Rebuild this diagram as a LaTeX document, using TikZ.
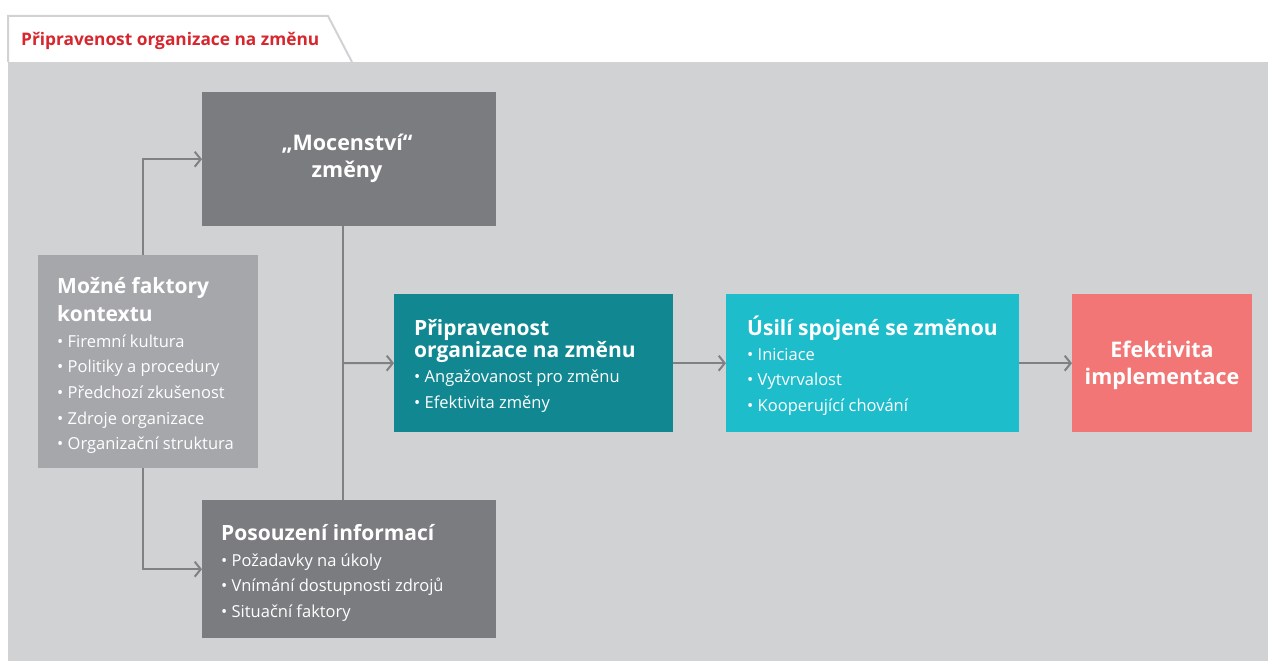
\documentclass[tikz,border=0pt]{standalone}
\usepackage{fontspec}
\setmainfont{Open Sans}
\usetikzlibrary{arrows.meta}
\definecolor{panel}{HTML}{D1D2D4}
\definecolor{darkbox}{HTML}{7B7C80}
\definecolor{lightbox}{HTML}{A6A7AB}
\definecolor{tealbox}{HTML}{118891}
\definecolor{cyanbox}{HTML}{1EBDCB}
\definecolor{salmonbox}{HTML}{F27676}
\definecolor{linegray}{HTML}{808184}
\definecolor{titlered}{HTML}{D7262E}
\tikzset{
  box/.style={rectangle, draw=none, anchor=north west, inner sep=0pt},
  conn/.style={draw=linegray, line width=2pt},
  arr/.style={conn, -{Straight Barb[length=6pt,width=15pt,line width=2pt]}},
  head/.style={anchor=base west, inner sep=0pt, text=white, font=\bfseries\fontsize{21}{22}\selectfont},
  items/.style={anchor=base west, inner sep=0pt, text=white, align=left, font=\fontsize{16.5}{25.7}\selectfont},
  chead/.style={anchor=base, inner sep=0pt, text=white, align=center, font=\bfseries\fontsize{21.5}{27}\selectfont},
}
\begin{document}
\begin{tikzpicture}[x=1pt,y=-1pt]
\useasboundingbox (0,0) rectangle (1268,661);
% background panel and title tab
\fill[panel] (8,62) rectangle (1268,661);
\draw[panel, fill=white, line width=2pt] (8,62) -- (8,16) -- (328,16) -- (352,62);
\node[anchor=base west, inner sep=0pt, text=titlered, font=\bfseries\fontsize{17.3}{18}\selectfont] (title) at (21,46) {Připravenost organizace na změnu};

% boxes
\node[box, fill=darkbox, minimum width=294pt, minimum height=134pt] (moc) at (202,92) {};
\node[box, fill=lightbox, minimum width=220pt, minimum height=213pt] (ctx) at (38,255) {};
\node[box, fill=tealbox, minimum width=279pt, minimum height=138pt] (prep) at (394,294) {};
\node[box, fill=cyanbox, minimum width=293pt, minimum height=138pt] (usili) at (726,294) {};
\node[box, fill=salmonbox, minimum width=180pt, minimum height=138pt] (eff) at (1072,294) {};
\node[box, fill=darkbox, minimum width=294pt, minimum height=138pt] (pos) at (202,500) {};

% box texts (a multi-line node sits on the baseline of its last line)
\node[chead] (mocT) at (347,177) {„Mocenství“\\změny};
\node[head] (ctxH) at (57,293) {Možné faktory};
\node[head] (ctxH2) at (57,321) {kontextu};
\node[items] (ctxI) at (57,449.8) {\textbullet\ Firemní kultura\\\textbullet\ Politiky a procedury\\\textbullet\ Předchozí zkušenost\\\textbullet\ Zdroje organizace\\\textbullet\ Organizační struktura};
\node[head] (prepH) at (414,335) {Připravenost};
\node[head] (prepH2) at (414,357) {organizace na změnu};
\node[items] (prepI) at (414,408) {\textbullet\ Angažovanost pro změnu\\\textbullet\ Efektivita změny};
\node[head] (usiliH) at (747,335) {Úsilí spojené se změnou};
\node[items] (usiliI) at (747,411.4) {\textbullet\ Iniciace\\\textbullet\ Vytvrvalost\\\textbullet\ Kooperující chování};
\node[chead] (effT) at (1162,384) {Efektivita\\implementace};
\node[head] (posH) at (221,540) {Posouzení informací};
\node[items] (posI) at (221,617.4) {\textbullet\ Požadavky na úkoly\\\textbullet\ Vnímání dostupnosti zdrojů\\\textbullet\ Situační faktory};

% connectors
\coordinate (ctxTop) at (143,255);
\coordinate (ctxBot) at (143,468);
\coordinate (mocBot) at (343,226);
\coordinate (posTop) at (343,500);
\coordinate (fork) at (343,363);
\draw[arr] (ctxTop) |- (moc.west);
\draw[arr] (ctxBot) |- (pos.west);
\draw[conn] (mocBot) -- (posTop);
\draw[arr] (fork) -- (prep.west);
\draw[arr] (prep.east) -- (usili.west);
\draw[arr] (usili.east) -- (eff.west);
\end{tikzpicture}
\end{document}
